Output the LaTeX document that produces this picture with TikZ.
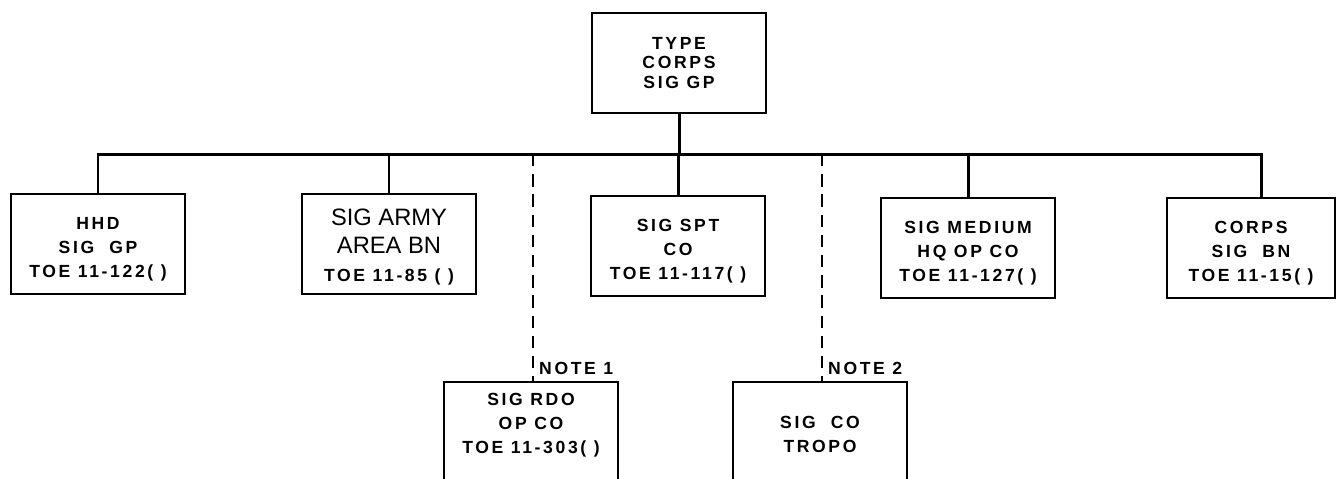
\documentclass[tikz,border=0pt]{standalone}
\usepackage{fontspec}
\setmainfont{Liberation Sans}
\newfontfamily\lblfont[LetterSpace=15]{Liberation Sans}
\usepackage{tikz}
\usetikzlibrary{positioning}
\tikzset{unitbox/.style={draw, line width=1pt, rectangle, minimum width=3.48cm, minimum height=2cm, align=center, font=\lblfont\bfseries\fontsize{10}{13.6}\selectfont, inner sep=0pt}}
\tikzset{bar/.style={line width=1.7pt}}
\tikzset{note/.style={line width=1.1pt, dash pattern=on 7pt off 4.5pt}}
\tikzset{notelbl/.style={font=\lblfont\bfseries\fontsize{10}{11}\selectfont, inner sep=1pt}}

\begin{document}
\begin{tikzpicture}[x=0.02cm,y=-0.02cm]
\clip (0,0) rectangle (1336,478);
\coordinate (bus) at (0,154);
% headquarters
\node[unitbox, font=\lblfont\bfseries\fontsize{10}{11.3}\selectfont] (gp) at (679,63) {TYPE\\CORPS\\SIG GP};
% assigned units
\node[unitbox] (hhd) at (98,244) {\\[-1pt]HHD\\SIG\ \ GP\\TOE 11-122( )};
\node[unitbox, font=\fontsize{13.5}{16}\selectfont] (army) at (389,244) {\\[-3pt]SIG ARMY\\AREA BN\\{\lblfont\bfseries\fontsize{10}{13.6}\selectfont TOE 11-85 ( )}};
\node[unitbox] (spt) at (678,246) {\\[-1pt]SIG SPT\\CO\\TOE 11-117( )};
\node[unitbox] (med) at (968,248) {\\[-1pt]SIG MEDIUM\\HQ OP CO\\TOE 11-127( )};
\node[unitbox, minimum width=3.36cm] (bn) at (1251,248) {\\[-1pt]CORPS\\SIG\ \ BN\\TOE 11-15( )};
% attached units
\node[unitbox, minimum height=2.1cm, anchor=north] (rdo) at (531,381) {SIG RDO\\OP CO\\TOE 11-303( )\\[-1pt]\ };
\node[unitbox, minimum height=2.1cm, anchor=north] (tropo) at (820,381) {SIG\ \ CO\\TROPO};
% lines
\draw[bar] (gp.south) -- (gp.south |- bus);
\draw[bar] (hhd.north) -- (hhd.north |- bus) -- ([xshift=6]bn.north |- bus) -- ([xshift=6]bn.north);
\foreach \n in {army,spt,med} {
\draw[bar] (\n.north) -- (\n.north |- bus);
}
\coordinate (n1) at (533,154);
\coordinate (n2) at (822,154);
\draw[note] (n1) -- (n1 |- rdo.north) node[notelbl, anchor=south west, xshift=2pt, yshift=2pt] {NOTE 1};
\draw[note] (n2) -- (n2 |- tropo.north) node[notelbl, anchor=south west, xshift=2pt, yshift=2pt] {NOTE 2};
\end{tikzpicture}
\end{document}
